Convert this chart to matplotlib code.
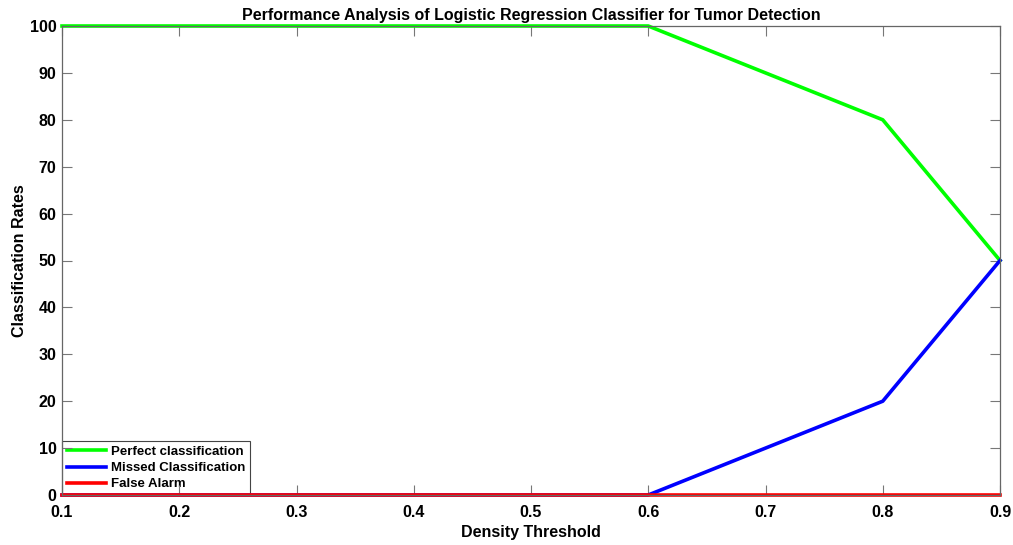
import matplotlib.pyplot as plt

# density thresholds and classification rates (%)
umbral = [0.1, 0.2, 0.3, 0.4, 0.5, 0.6, 0.7, 0.8, 0.9]
perfeita = [100, 100, 100, 100, 100, 100, 90, 80, 50]
perdida = [0, 0, 0, 0, 0, 0, 10, 20, 50]
falso_alarme = [0, 0, 0, 0, 0, 0, 0, 0, 0]

plt.rcParams['font.family'] = ['Liberation Sans', 'DejaVu Sans']
plt.rcParams['font.weight'] = 'bold'

fig = plt.figure(figsize=(10.13, 5.45), dpi=100)
ax = fig.add_axes([62 / 1013, 1 - 495 / 545, (1000 - 62) / 1013, (495 - 26) / 545])

ax.plot(umbral, perfeita, color=(0, 1, 0), linewidth=2.6, label='Perfect classification', clip_on=False)
ax.plot(umbral, perdida, color=(0, 0, 1), linewidth=2.6, label='Missed Classification', clip_on=False)
ax.plot(umbral, falso_alarme, color=(1, 0, 0), linewidth=2.6, label='False Alarm', clip_on=False)

ax.set_xlim(0.1, 0.9)
ax.set_ylim(0, 100)
ax.set_xticks([0.1, 0.2, 0.3, 0.4, 0.5, 0.6, 0.7, 0.8, 0.9])
ax.set_yticks(range(0, 101, 10))
ax.tick_params(direction='in', top=True, right=True, length=7, width=0.8,
               color='#777777', labelsize=11.5)
ax.tick_params(axis='x', pad=7)
ax.tick_params(axis='y', pad=4)
for s in ax.spines.values():
    s.set_color('#666666')
    s.set_linewidth(0.9)

ax.set_title('Performance Analysis of Logistic Regression Classifier for Tumor Detection',
             fontsize=11.5, fontweight='bold', pad=4)
ax.set_xlabel('Density Threshold', fontsize=11.5, fontweight='bold', labelpad=4)
ax.set_ylabel('Classification Rates', fontsize=11.5, fontweight='bold', labelpad=2)

leg = ax.legend(loc='lower left', fontsize=9.5, frameon=True, fancybox=False,
                borderaxespad=0, borderpad=0.35, handlelength=3.0, labelspacing=0.3,
                handletextpad=0.4)
leg.get_frame().set_edgecolor('#444444')
leg.get_frame().set_linewidth(0.8)
leg.get_frame().set_alpha(1)
leg.set_zorder(1)

plt.savefig('out.png', dpi=100)
